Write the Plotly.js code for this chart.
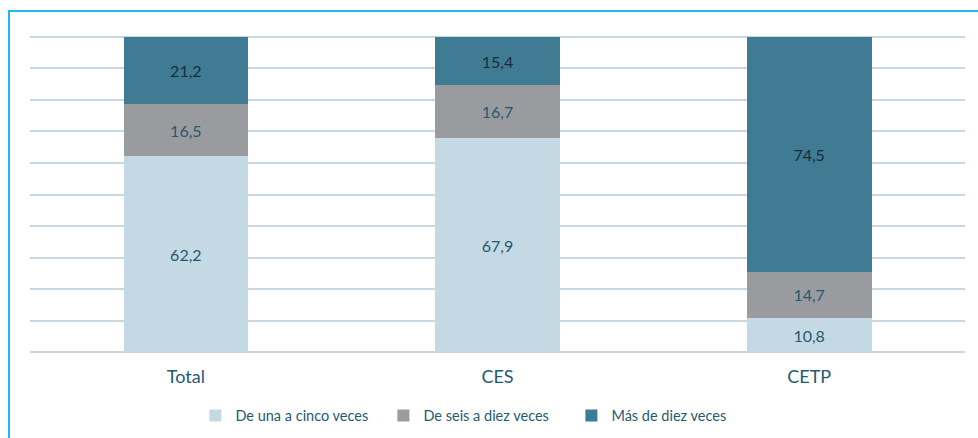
<!DOCTYPE html>
<html>
<head>
<meta charset="utf-8">
<script src="https://cdn.plot.ly/plotly-3.0.1.min.js"></script>
<style>
  html, body { margin: 0; padding: 0; background: #ffffff; }
  #frame { position: absolute; left: 0; top: 0; width: 978px; height: 438px; }
  #edge { position: absolute; left: 8px; top: 10px; width: 970px; height: 428px;
          border-left: 2px solid #1fb8f2; border-top: 2px solid #1fb8f2; box-sizing: border-box; pointer-events: none; }
  #chart { position: absolute; left: 0; top: 0; width: 978px; height: 438px; }
</style>
</head>
<body>
<div id="frame">
  <div id="chart"></div>
  <div id="edge"></div>
</div>
<script>
const categories = ["Total", "CES", "CETP"];
const seriesNames = ["De una a cinco veces", "De seis a diez veces", "Más de diez veces"];
const unaACinco = [62.2, 67.9, 10.8];
const seisADiez = [16.5, 16.7, 14.7];
const masDeDiez = [21.2, 15.4, 74.5];
const gridTicks = [0, 10, 20, 30, 40, 50, 60, 70, 80, 90, 100];

const colors = ["#c5d9e4", "#9a9b9e", "#407b94"];
const labelColors = ["#1f5a72", "#1f5a72", "#1a2a3a"];
const values = [unaACinco, seisADiez, masDeDiez];

const FONT = "Lato, 'Open Sans', sans-serif";
const GRID = "#c9d8e0";

const traces = values.map((v, i) => ({
  type: "bar",
  name: seriesNames[i],
  x: categories,
  y: v,
  marker: { color: colors[i], line: { width: 0 } },
  text: v,
  texttemplate: "%{y:.1f}",
  textposition: "inside",
  insidetextanchor: "middle",
  constraintext: "none",
  textfont: { family: FONT, size: 16, color: labelColors[i] },
  hoverinfo: "none"
}));

// edge gridlines (0 and 100) which Plotly drops at the range ends
const edgeLines = [gridTicks[0], gridTicks[gridTicks.length - 1]].map(v => ({
  type: "line", xref: "paper", yref: "y", x0: 0, x1: 1, y0: v, y1: v,
  line: { color: GRID, width: 2 }, layer: "below"
}));

const layout = {
  width: 978,
  height: 438,
  barmode: "stack",
  bargap: 0.6,
  separators: ",.",
  paper_bgcolor: "#ffffff",
  plot_bgcolor: "#ffffff",
  margin: { l: 30, r: 13, t: 36, b: 85 },
  font: { family: FONT, size: 15, color: "#1f5a72" },
  xaxis: {
    type: "category",
    showgrid: false,
    zeroline: false,
    showline: false,
    ticks: "",
    automargin: false,
    ticklabelstandoff: 11,
    tickfont: { family: FONT, size: 18, color: "#1f5a72" }
  },
  yaxis: {
    range: [-0.3, 100.3],
    tickvals: gridTicks,
    showticklabels: false,
    ticks: "",
    showgrid: true,
    gridcolor: GRID,
    gridwidth: 2,
    zeroline: false,
    showline: false,
    automargin: false,
    fixedrange: true
  },
  shapes: edgeLines,
  showlegend: true,
  legend: {
    orientation: "h",
    xref: "paper",
    yref: "container",
    x: 0.1769,
    xanchor: "left",
    y: 0.051,
    yanchor: "middle",
    traceorder: "normal",
    font: { family: FONT, size: 14.5, color: "#1f5a72" },
    itemwidth: 30,
    entrywidth: 143,
    bgcolor: "rgba(0,0,0,0)"
  }
};

Plotly.newPlot("chart", traces, layout, { displayModeBar: false, staticPlot: true });
</script>
</body>
</html>
